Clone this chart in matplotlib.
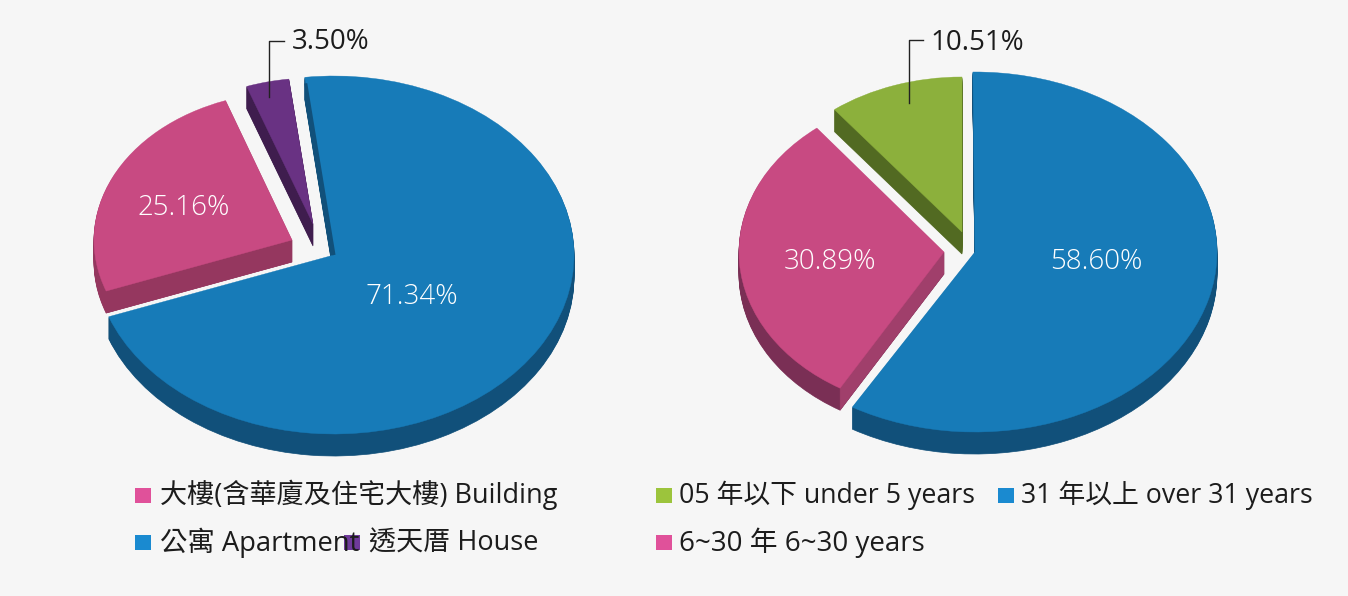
import numpy as np
import matplotlib
matplotlib.use("Agg")
import matplotlib.pyplot as plt
from matplotlib.patches import Polygon, Rectangle, Wedge
from matplotlib.transforms import Affine2D

plt.rcParams["font.family"] = ["Open Sans", "Noto Sans CJK TC", "DejaVu Sans"]

BG = "#f6f6f6"
BLUE = "#177bb8"
BLUE_SIDE = "#11507a"
PINK = "#c84a82"
PINK_SIDE = "#7a2f55"
PINK_CUT = "#95375f"
PURPLE = "#693283"
PURPLE_SIDE = "#3f1d4e"
GREEN = "#8cb03c"
GREEN_SIDE = "#526a22"
DEPTH = 22

type_labels = ["公寓 Apartment", "大樓(含華廈及住宅大樓) Building", "透天厝 House"]
type_values = [71.34, 25.16, 3.50]
age_labels = ["31 年以上 over 31 years", "6~30 年 6~30 years", "05 年以下 under 5 years"]
age_values = [58.60, 30.89, 10.51]


def edge_point(apex, rx, ry, clock_deg):
    a = np.radians(clock_deg - 90)
    return apex[0] + rx * np.cos(a), apex[1] + ry * np.sin(a)


def slice_3d(ax, apex, rx, ry, start, share, color, side, cut=None):
    # start is in degrees clockwise from 12 o'clock; y axis is flipped so wedge angles run clockwise
    end = start + share * 3.6
    for d in range(DEPTH, 0, -1):
        tr = Affine2D().scale(rx, ry).translate(apex[0], apex[1] + d) + ax.transData
        ax.add_patch(Wedge((0, 0), 1, start - 90, end - 90, fc=side, ec=side, lw=0.5, transform=tr))
    if cut is not None:
        x, y = edge_point(apex, rx, ry, start)
        ax.add_patch(Polygon([apex, (x, y), (x, y + DEPTH), (apex[0], apex[1] + DEPTH)], fc=cut, ec=cut, lw=0.3))
    tr = Affine2D().scale(rx, ry).translate(*apex) + ax.transData
    ax.add_patch(Wedge((0, 0), 1, start - 90, end - 90, fc=color, ec=color, lw=0.3, transform=tr))
    return end


def legend_item(ax, x, text_x, y, color, label, size):
    ax.add_patch(Rectangle((x, y - 15), 16, 15, fc=color, ec="none"))
    ax.text(text_x, y + 0.5, label, fontsize=size, color="#1c1c1c", va="baseline", zorder=4)


fig = plt.figure(figsize=(13.48, 5.96), dpi=100, facecolor=BG)
ax = fig.add_axes([0, 0, 1, 1])
ax.set_xlim(0, 1348)
ax.set_ylim(596, 0)
ax.axis("off")

# left pie
a = slice_3d(ax, (334, 255), 240, 179, -7, type_values[0], BLUE, BLUE_SIDE)
x, y = edge_point((334, 255), 240, 179, -7)
ax.plot([x + 1, 334], [y + 6, 255], color=BLUE_SIDE, lw=2.2, solid_capstyle="butt")
a = slice_3d(ax, (292, 240), 198, 148, a, type_values[1], PINK, PINK_CUT, cut=PINK_CUT)
slice_3d(ax, (313, 224), 198, 146, a, type_values[2], PURPLE, PURPLE_SIDE)

# right pie
a = slice_3d(ax, (975, 252), 242, 180, -0.5, age_values[0], BLUE, BLUE_SIDE)
a = slice_3d(ax, (944, 252), 205, 158, a, age_values[1], PINK, PINK_SIDE, cut="#a03f6b")
slice_3d(ax, (962, 232), 208, 155, a + 0.5, age_values[2], GREEN, GREEN_SIDE)

# value labels
for x, y, v in [(412, 297, type_values[0]), (184, 208, type_values[1]),
                (1096, 262, age_values[0]), (830, 262, age_values[1])]:
    ax.text(x, y, f"{v:.2f}%", color="white", fontsize=20, fontweight="light", ha="center", va="center", zorder=4)
ax.text(292, 42, f"{type_values[2]:.2f}%", color="#1c1c1c", fontsize=20, va="center", zorder=4)
ax.text(930, 43, f"{age_values[2]:.2f}%", color="#1c1c1c", fontsize=20, va="center", zorder=4)

# leader lines
ax.plot([269, 269, 284], [97, 41, 41], color="#222222", lw=1, zorder=4)
ax.plot([909, 909, 923], [103, 40, 40], color="#222222", lw=1, zorder=4)

# legends
legend_item(ax, 135, 160, 503, "#e0519a", type_labels[1], 19.5)
legend_item(ax, 135, 160, 550, "#1a8ad0", type_labels[0], 19.7)
legend_item(ax, 344, 369, 550, "#6f3a9a", type_labels[2], 19.5)
legend_item(ax, 656, 679, 503, "#9cc43c", age_labels[2], 19.3)
legend_item(ax, 998, 1021, 503, "#1a8ad0", age_labels[0], 19.3)
legend_item(ax, 656, 679, 550, "#e0519a", age_labels[1], 20)

fig.savefig("out.png", dpi=100, facecolor=BG)
